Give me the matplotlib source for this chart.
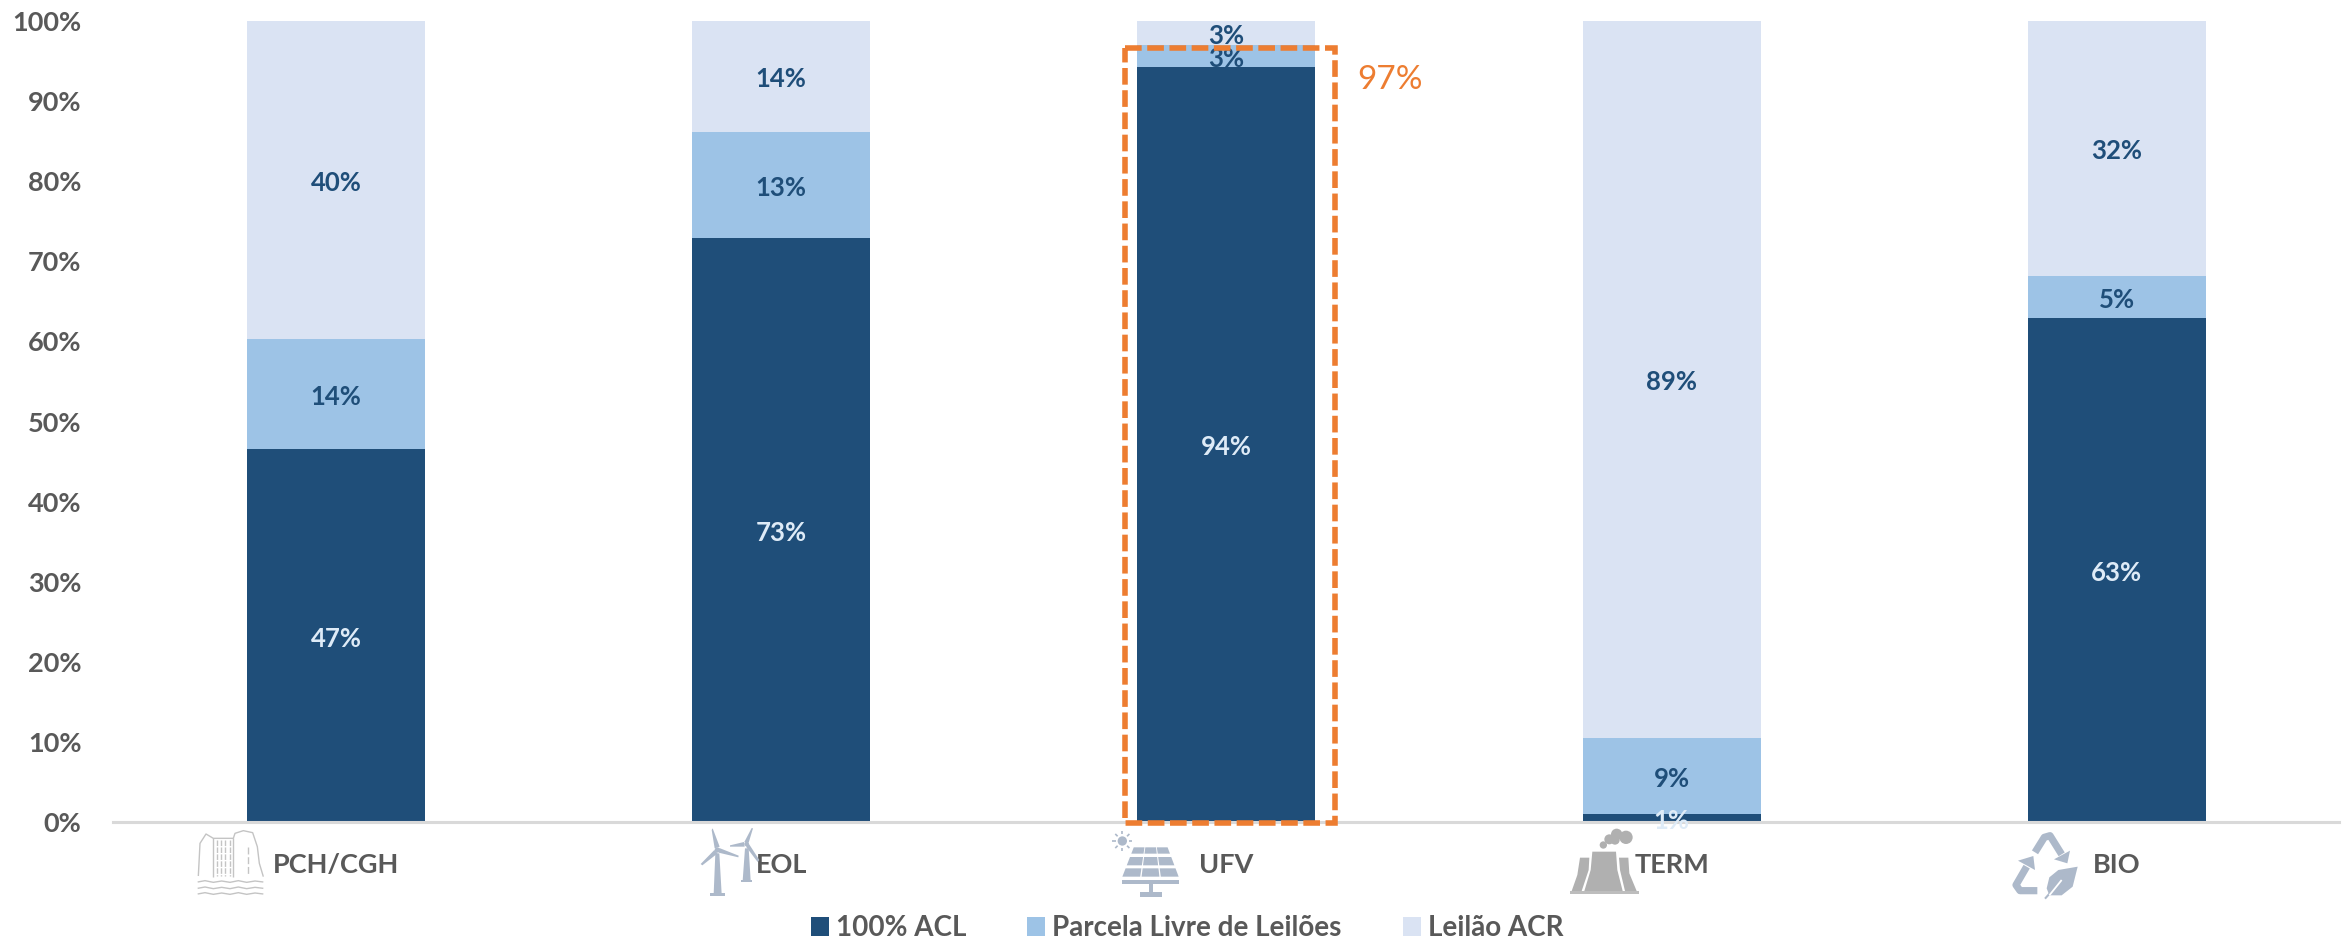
import numpy as np
import matplotlib
matplotlib.use("Agg")
import matplotlib.pyplot as plt
from matplotlib.patches import Polygon, Circle, Rectangle

plt.rcParams['font.family'] = ['Lato', 'DejaVu Sans']

categories = ['PCH/CGH', 'EOL', 'UFV', 'TERM', 'BIO']
acl = [46.51, 72.9, 94.3, 1.0, 62.9]
parcela = [13.8, 13.2, 2.7, 9.49, 5.3]
leilao = [39.69, 13.9, 3.0, 89.49, 31.8]
series_names = ['100% ACL', 'Parcela Livre de Leilões', 'Leilão ACR']
highlight_label = '97%'

W, H = 2349, 940
DARK, MID, LIGHT = '#1F4E79', '#9DC3E6', '#DAE3F3'
GREY = '#595959'
ORANGE = '#ED7D31'
ICON = '#ADB9CA'
FS = 18.5
FS_AXIS = 19.5

fig = plt.figure(figsize=(W / 100, H / 100), dpi=100, facecolor='white')
L, R, T, B = 113.4, 2339.4, 21, 822
ax = fig.add_axes([L / W, 1 - B / H, (R - L) / W, (B - T) / H])
x = np.arange(len(categories))
bw = 0.4
b1 = ax.bar(x, acl, bw, color=DARK, label=series_names[0])
b2 = ax.bar(x, parcela, bw, bottom=acl, color=MID, label=series_names[1])
b3 = ax.bar(x, leilao, bw, bottom=np.add(acl, parcela), color=LIGHT, label=series_names[2])
for bars, vals, col in ((b1, acl, '#DEEBF7'), (b2, parcela, DARK), (b3, leilao, DARK)):
    anns = ax.bar_label(bars, labels=[f'{v:.0f}%' for v in vals], label_type='center',
                        color=col, fontsize=FS, fontweight='bold')
    for an in anns:
        an.xyann = (0, -2)

ax.set_xlim(-0.5, 4.5)
ax.set_ylim(0, 100)
ax.set_yticks(np.arange(0, 101, 10))
ax.set_yticklabels([f'{v}%' for v in range(0, 101, 10)], fontsize=FS_AXIS, fontweight='bold', color=GREY)
ax.set_xticks(x)
ax.set_xticklabels(categories, fontsize=FS_AXIS, fontweight='bold', color=GREY)
ax.tick_params(axis='both', length=0)
ax.tick_params(axis='y', pad=23)
ax.tick_params(axis='x', pad=22)
for s in ('top', 'right', 'left'):
    ax.spines[s].set_visible(False)
ax.spines['bottom'].set_color('#D9D9D9')
ax.spines['bottom'].set_linewidth(2.2)

leg = ax.legend(loc='center', bbox_to_anchor=(1187 / W, 1 - 928 / H), bbox_transform=fig.transFigure,
                ncol=3, frameon=False, fontsize=20, handlelength=0.65, handleheight=0.65,
                handletextpad=0.25, columnspacing=2.2, borderpad=0, borderaxespad=0)
for t in leg.get_texts():
    t.set_color(GREY)
    t.set_fontweight('bold')

# overlay in pixel coordinates for the highlight box and the axis icons
ov = fig.add_axes([0, 0, 1, 1], facecolor='none')
ov.set_xlim(0, W)
ov.set_ylim(H, 0)
ov.axis('off')

ov.add_patch(Rectangle((1125, 48), 210, 775, fill=False, ec=ORANGE, lw=4, ls=(0, (3.0, 1.0))))
ov.text(1357, 80, highlight_label, color=ORANGE, fontsize=24, va='center', ha='left')


def P(pts, ox, oy, color=ICON, **kw):
    arr = np.asarray(pts, float) / 3 + (ox, oy)
    ov.add_patch(Polygon(arr, closed=True, fc=color, ec='none', **kw))


def LN(pts, ox, oy, color=ICON, lw=1.0, **kw):
    arr = np.asarray(pts, float) / 3 + (ox, oy)
    ov.plot(arr[:, 0], arr[:, 1], color=color, lw=lw, solid_capstyle='butt', **kw)


def C(cx, cy, r, ox, oy, color=ICON, **kw):
    ov.add_patch(Circle((cx / 3 + ox, cy / 3 + oy), r / 3, fc=color, ec='none', **kw))


# PCH/CGH: waterfall
ox, oy = 180, 820
PC = '#C4C4C4'
LN([(55, 168), (60, 70), (78, 42), (100, 55), (160, 55), (165, 40), (190, 32), (218, 38), (232, 80), (238, 130), (250, 170)], ox, oy, PC)
LN([(100, 55), (100, 170)], ox, oy, PC)
LN([(160, 55), (160, 170)], ox, oy, PC)
for xx in (110, 122, 136, 150):
    LN([(xx, 60), (xx, 168)], ox, oy, PC, ls=(0, (4, 1)))
LN([(205, 80), (205, 165)], ox, oy, PC, ls=(0, (5, 2)))
for yy in (186, 205, 222):
    LN([(53, yy), (75, yy - 4), (100, yy + 1), (125, yy - 3), (150, yy + 1), (175, yy - 4), (200, yy + 1), (225, yy - 3), (250, yy)], ox, oy, PC)

# EOL: wind turbines
ox, oy = 680, 820
P([(106, 100), (118, 100), (125, 222), (101, 222)], ox, oy)
P([(90, 220), (136, 220), (136, 228), (90, 228)], ox, oy)
P([(104, 85), (119, 80), (98, 25), (95, 30)], ox, oy)
P([(118, 84), (116, 98), (175, 112), (176, 107)], ox, oy)
P([(103, 90), (113, 100), (67, 136), (62, 132)], ox, oy)
C(112, 90, 8, ox, oy)
P([(195, 85), (206, 85), (212, 182), (188, 182)], ox, oy)
P([(183, 180), (217, 180), (217, 187), (183, 187)], ox, oy)
P([(193, 66), (206, 68), (219, 25), (215, 24)], ox, oy)
P([(192, 66), (194, 80), (150, 80), (150, 76)], ox, oy)
P([(198, 80), (207, 72), (238, 120), (233, 126)], ox, oy)
C(200, 72, 7, ox, oy)

# UFV: solar panel and sun
ox, oy = 1080, 820
C(127, 63, 14, ox, oy)
for a in np.deg2rad(np.arange(0, 360, 45)):
    LN([(127 + 20 * np.cos(a), 63 + 20 * np.sin(a)), (127 + 30 * np.cos(a), 63 + 30 * np.sin(a))], ox, oy, lw=1.2)
rows = [(82, 101), (111, 136), (145, 170)]
for y0, y1 in rows:
    def edge(y):
        f = (y - 82) / (170 - 82)
        return 160 - 35 * f, 264 + 34 * f
    l0, r0 = edge(y0)
    l1, r1 = edge(y1)
    for c in range(3):
        a0, a1 = c / 3 + 0.012, (c + 1) / 3 - 0.012
        P([(l0 + (r0 - l0) * a0, y0), (l0 + (r0 - l0) * a1, y0), (l1 + (r1 - l1) * a1, y1), (l1 + (r1 - l1) * a0, y1)], ox, oy)
P([(125, 180), (298, 180), (298, 192), (125, 192)], ox, oy)
P([(207, 192), (219, 192), (219, 218), (207, 218)], ox, oy)
P([(180, 217), (245, 217), (245, 230), (180, 230)], ox, oy)

# TERM: cooling towers and smoke
ox, oy = 1540, 790
TC = '#B0B0B0'
P([(120, 203), (148, 203), (146, 240), (125, 303), (95, 303), (112, 255)], ox, oy, TC)
P([(157, 185), (228, 185), (232, 240), (248, 303), (133, 303), (152, 240)], ox, oy, TC)
P([(237, 203), (265, 203), (268, 250), (290, 303), (255, 303), (240, 240)], ox, oy, TC)
P([(90, 303), (297, 303), (297, 311), (90, 311)], ox, oy, '#BDBDBD')
for cx, cy, r in ((190, 165, 11), (208, 148, 15), (230, 133, 17), (258, 142, 20), (225, 150, 14)):
    C(cx, cy, r, ox, oy, TC)

# BIO: recycling arrows and leaf
ox, oy = 1990, 820
LN([(135, 97), (163, 52), (180, 47), (215, 103)], ox, oy, lw=5.2)
P([(240, 92), (232, 130), (192, 118)], ox, oy)
LN([(142, 212), (90, 212), (78, 195), (110, 140)], ox, oy, lw=5.2)
P([(84, 122), (130, 108), (135, 150)], ox, oy)
P([(263, 140), (205, 150), (178, 172), (170, 205), (178, 226), (215, 226), (248, 200)], ox, oy)
LN([(165, 236), (215, 180)], ox, oy, color=ICON, lw=1.5)
LN([(178, 226), (215, 180)], ox, oy, color='white', lw=1.3)

fig.savefig('out.png', dpi=100, facecolor='white')
